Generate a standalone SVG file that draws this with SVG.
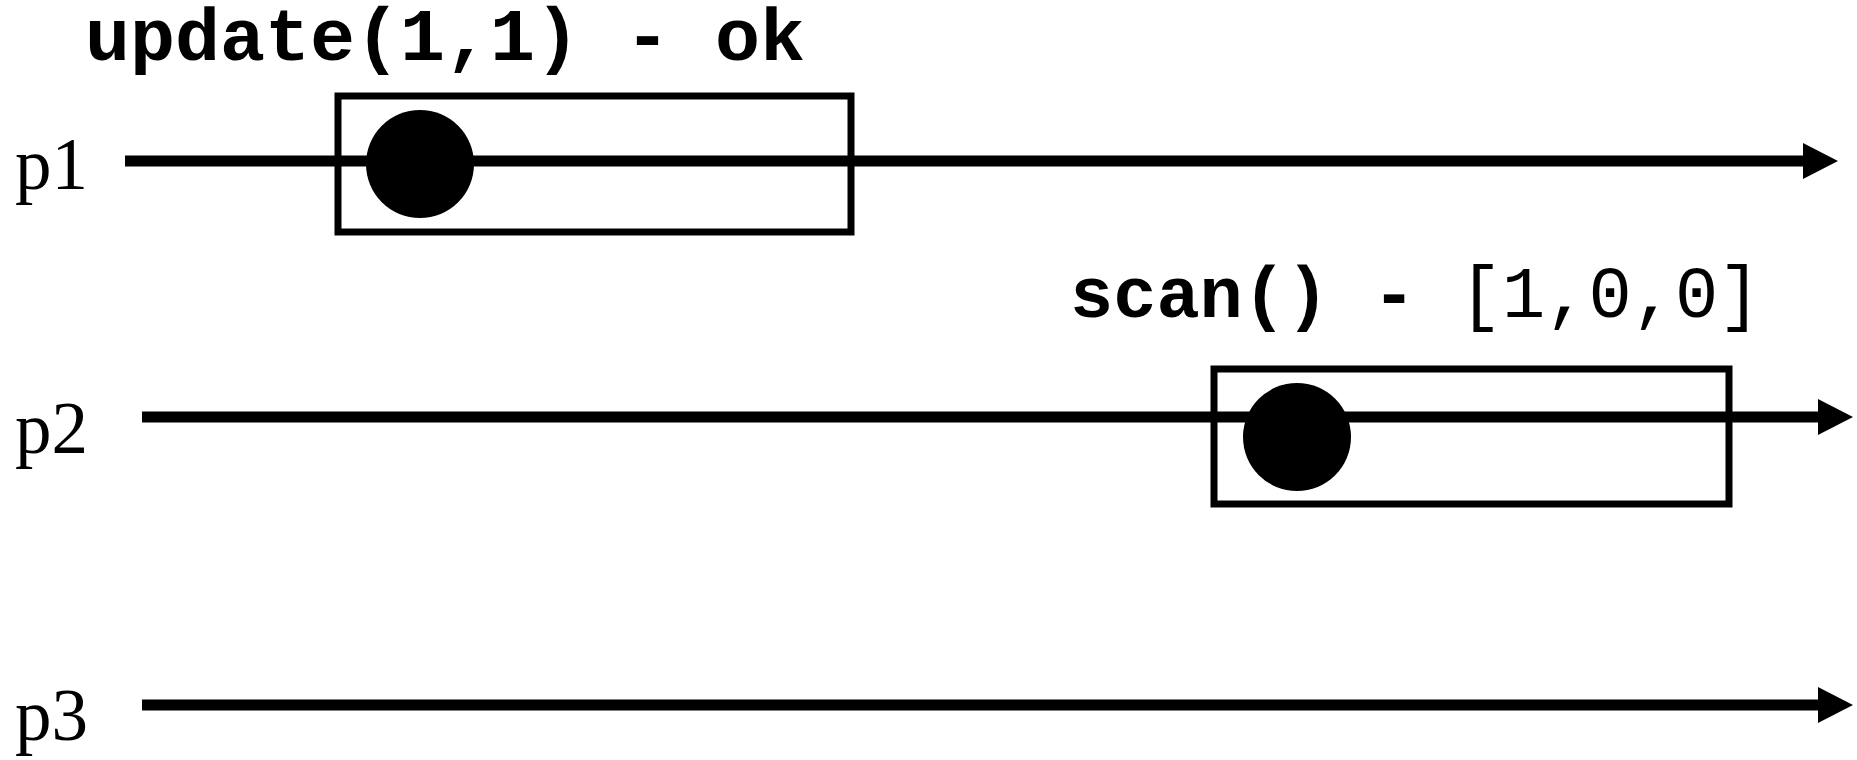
<svg xmlns="http://www.w3.org/2000/svg" width="1857" height="760" viewBox="0 0 1857 760">
  <style>
    .axis { stroke: #000; stroke-width: 11; fill: none; }
    .op { fill: none; stroke: #000; stroke-width: 7; }
    .point { fill: #000; }
    .proc { font-family: "Liberation Serif", "Times New Roman", serif; font-size: 73px; fill: #000; }
    .call { font-family: "Liberation Mono", "Courier New", monospace; font-weight: bold; fill: #000; }
    .plain { font-weight: normal; }
  </style>
  <defs>
    <marker id="head" markerUnits="userSpaceOnUse" markerWidth="36" markerHeight="36" refX="0" refY="18" orient="auto">
      <path d="M0,0 L35,18 L0,36 Z" fill="#000"/>
    </marker>
  </defs>
  <rect width="1857" height="760" fill="#fff"/>

  <!-- process timelines -->
  <g id="connectors">
    <line class="axis" x1="125" y1="161" x2="1803" y2="161" marker-end="url(#head)"/>
    <line class="axis" x1="142" y1="417" x2="1818" y2="417" marker-end="url(#head)"/>
    <line class="axis" x1="142" y1="705" x2="1818" y2="705" marker-end="url(#head)"/>
  </g>

  <!-- process labels -->
  <g id="p1"><text class="proc" x="15" y="189">p1</text></g>
  <g id="p2"><text class="proc" x="15" y="453">p2</text></g>
  <g id="p3"><text class="proc" x="15" y="740">p3</text></g>

  <!-- update operation on p1 -->
  <g id="update">
    <rect class="op" x="338" y="96" width="513" height="136"/>
    <circle class="point" cx="420" cy="164" r="54"/>
    <text class="call" x="85" y="60" font-size="75">update(1,1) - ok</text>
  </g>

  <!-- scan operation on p2 -->
  <g id="scan">
    <rect class="op" x="1214" y="369" width="515" height="135"/>
    <circle class="point" cx="1297" cy="437" r="54"/>
    <text class="call" x="1070" y="317" font-size="72">scan() - <tspan class="plain">[1,0,0]</tspan></text>
  </g>
</svg>
